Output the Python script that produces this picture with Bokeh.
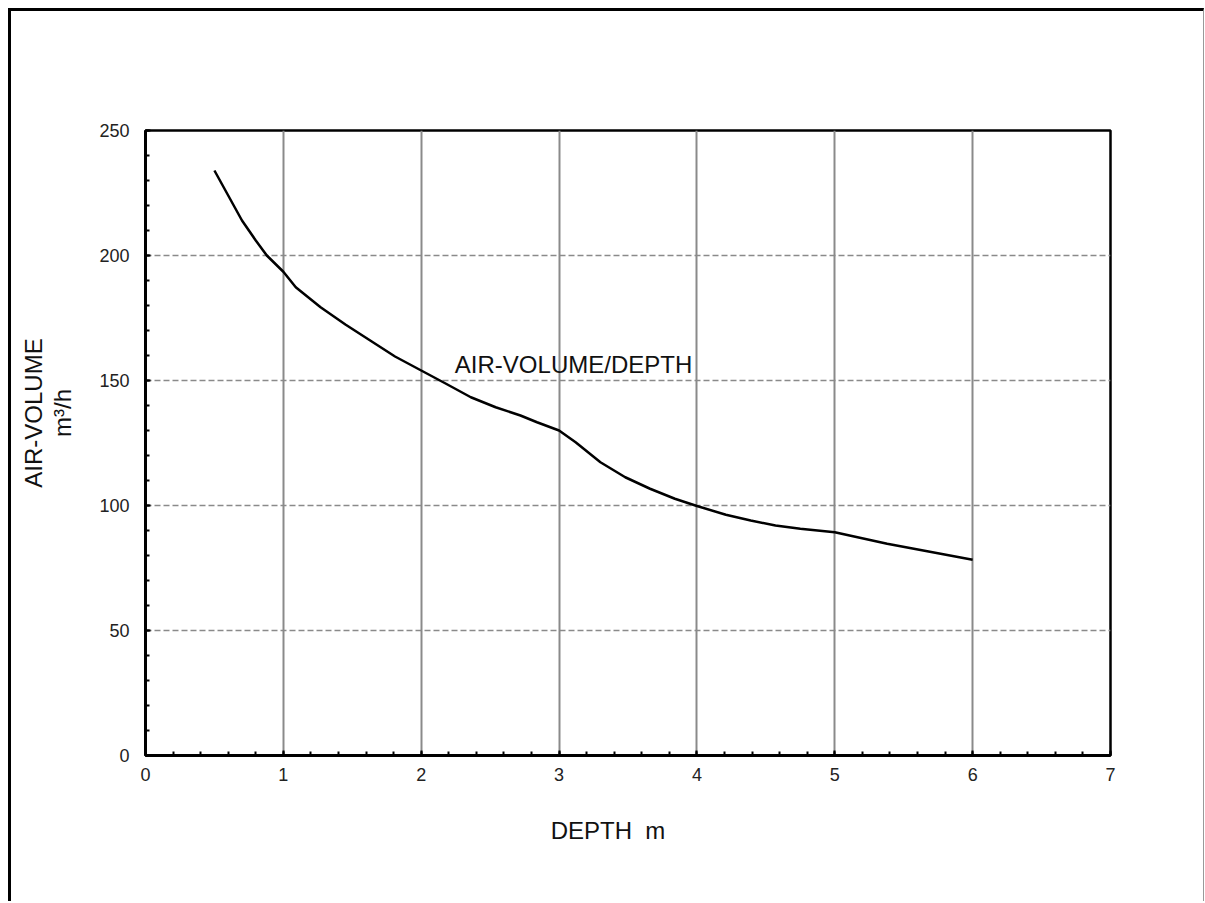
from bokeh.plotting import figure
from bokeh.models import Label, FixedTicker
from bokeh.embed import file_html
from bokeh.resources import INLINE

# ---- data ----
depth_m = [0.5, 0.6, 0.7, 0.8, 0.88, 1.0, 1.09, 1.27, 1.45, 1.63, 1.81, 2.0, 2.18, 2.36,
           2.54, 2.72, 2.84, 3.0, 3.12, 3.3, 3.48, 3.66, 3.84, 4.0, 4.21, 4.39, 4.57,
           4.75, 5.0, 5.38, 6.0]
air_volume = [234, 224, 214, 206, 200, 193.5, 187.3, 179.3, 172.4, 166, 159.6, 154, 148.7,
              143.3, 139.3, 136, 133.3, 130, 125.3, 117.3, 111.3, 106.7, 102.7, 99.8, 96.3,
              94, 92, 90.7, 89.3, 84.7, 78.3]

x_ticks = [0, 1, 2, 3, 4, 5, 6, 7]
y_ticks = [0, 50, 100, 150, 200, 250]
x_title = "DEPTH  m"
y_title_1 = "AIR-VOLUME"
y_title_2 = "m³/h"
series_label = "AIR-VOLUME/DEPTH"

FONT = "Liberation Sans"
TXT = "#111111"
NB = "\u00a0"

p = figure(frame_width=965, frame_height=625, output_backend="svg", toolbar_location=None,
           x_range=(0, 7), y_range=(0, 250),
           min_border_left=134, min_border_right=93,
           min_border_top=119, min_border_bottom=146)
p.styles = {"margin-left": "8px", "margin-top": "8px",
            "border-left": "3px solid black", "border-top": "3px solid black",
            "border-right": "1px solid #999999"}

p.background_fill_color = "white"
p.border_fill_color = "white"
p.outline_line_color = "black"
p.outline_line_width = 2.5

# grids
p.xgrid.ticker = FixedTicker(ticks=x_ticks)
p.xgrid.grid_line_color = "#8a8a8a"
p.xgrid.grid_line_width = 2
p.ygrid.ticker = FixedTicker(ticks=y_ticks)
p.ygrid.grid_line_color = "#8a8a8a"
p.ygrid.grid_line_width = 1.6
p.ygrid.grid_line_dash = "6 3"

# axes
xa = p.xaxis[0]
xa.ticker = FixedTicker(ticks=x_ticks, minor_ticks=[i * 0.2 for i in range(36)])
ya = p.yaxis[0]
ya.ticker = FixedTicker(ticks=y_ticks, minor_ticks=[i * 10 for i in range(26)])
for ax in (xa, ya):
    ax.axis_line_color = "black"
    ax.axis_line_width = 3
    ax.major_tick_in = 5
    ax.major_tick_out = 0
    ax.minor_tick_in = 4
    ax.minor_tick_out = 0
    ax.major_tick_line_color = "black"
    ax.major_tick_line_width = 2
    ax.minor_tick_line_color = "black"
    ax.minor_tick_line_width = 2
    ax.major_label_text_font = FONT
    ax.major_label_text_font_size = "18px"
    ax.major_label_text_color = "#222222"
    ax.axis_label_text_font = FONT
    ax.axis_label_text_font_size = "24px"
    ax.axis_label_text_font_style = "normal"
    ax.axis_label_text_color = TXT
xa.major_label_standoff = 12
ya.major_label_standoff = 16

xa.axis_label = x_title.replace(" ", NB) + NB * 6
xa.axis_label_standoff = 33
ya.axis_label = NB * 9 + y_title_1 + "\n" + NB * 9 + y_title_2
ya.axis_label_standoff = 20
ya.axis_label_text_align = "center"
ya.axis_label_text_line_height = 1.1

# curve
p.line(depth_m, air_volume, line_color="black", line_width=2.5)

# curve label
p.add_layout(Label(x=3.105, y=156.4, text=series_label, text_align="center",
                   text_baseline="middle", text_font=FONT, text_font_size="24px",
                   text_color=TXT))

open("out.html", "w").write(file_html(p, INLINE))
